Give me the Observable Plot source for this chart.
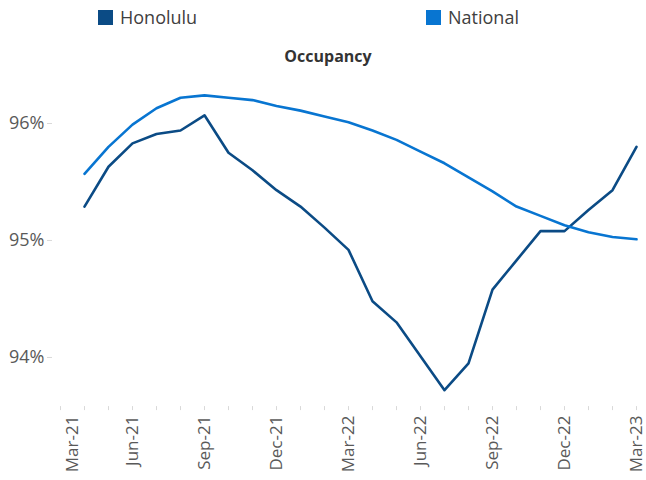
<!DOCTYPE html>
<html><head><meta charset="utf-8">
<script src="https://cdn.jsdelivr.net/npm/d3@7"></script>
<script src="https://cdn.jsdelivr.net/npm/@observablehq/plot@0.6"></script>
<style>
body{margin:0;background:#fff;font-family:"Open Sans",sans-serif;}
#wrap{position:relative;width:646px;height:480px;}
#chart{position:absolute;left:0;top:0;}
.leg{position:absolute;top:4px;font-size:18px;color:#404040;display:flex;align-items:center;line-height:26px;}
.sw{width:15px;height:15px;display:inline-block;margin-right:7px;}
#title{position:absolute;top:45px;left:5px;width:646px;text-align:center;font-weight:bold;font-size:16px;color:#333;}
</style></head>
<body><div id="wrap">
<div id="chart"></div>
<div class="leg" style="left:98px"><span class="sw" style="background:#0B4B85"></span>Honolulu</div>
<div class="leg" style="left:426px"><span class="sw" style="background:#0875D1"></span>National</div>
<div id="title">Occupancy</div>
</div>
<script>
const axisStart = "Mar-21";
const months = ["Apr-21","May-21","Jun-21","Jul-21","Aug-21","Sep-21","Oct-21","Nov-21","Dec-21",
  "Jan-22","Feb-22","Mar-22","Apr-22","May-22","Jun-22","Jul-22","Aug-22","Sep-22","Oct-22","Nov-22","Dec-22",
  "Jan-23","Feb-23","Mar-23"];
const honolulu = [95.29,95.63,95.83,95.91,95.94,96.07,95.75,95.60,95.43,95.29,95.11,94.92,
  94.48,94.30,94.01,93.72,93.95,94.58,94.83,95.08,95.08,95.26,95.43,95.80];
const national = [95.57,95.80,95.99,96.13,96.22,96.24,96.22,96.20,96.15,96.11,96.06,96.01,
  95.94,95.86,95.76,95.66,95.54,95.42,95.29,95.21,95.13,95.07,95.03,95.01];
const tickLabels = ["Mar-21","Jun-21","Sep-21","Dec-21","Mar-22","Jun-22","Sep-22","Dec-22","Mar-23"];
const yTicks = [94,95,96];

const domain = [axisStart, ...months];
const rows = months.map((m,i)=>({month:m, honolulu:honolulu[i], national:national[i]}));
const labelOpts = {tickSize:0, tickPadding:9, tickRotate:-90, fontSize:17, fill:"#595959", label:null};

const chart = Plot.plot({
  width:646, height:480,
  marginLeft:57, marginRight:8, marginTop:70.35, marginBottom:73.9,
  style:{fontFamily:"Open Sans", background:"#fff", overflow:"visible"},
  x:{type:"point", domain, padding:0},
  y:{domain:[93.58,96.45]},
  marks:[
    Plot.axisY({ticks:yTicks, tickFormat:d=>d+"%", tickSize:5, dx:-5, tickPadding:3,
      fontSize:18, fill:"#595959", stroke:"#d9d9d9", label:null}),
    Plot.axisX({ticks:domain, tickSize:4, tickFormat:()=>"", stroke:"#d9d9d9", label:null}),
    Plot.axisX({...labelOpts, ticks:tickLabels.slice(0,1), dx:12}),
    Plot.axisX({...labelOpts, ticks:tickLabels.slice(1), dx:0}),
    Plot.line(rows, {x:"month", y:"honolulu", stroke:"#0B4B85", strokeWidth:2.6}),
    Plot.line(rows, {x:"month", y:"national", stroke:"#0875D1", strokeWidth:2.6})
  ]
});
document.getElementById("chart").appendChild(chart);
</script>
</body></html>
